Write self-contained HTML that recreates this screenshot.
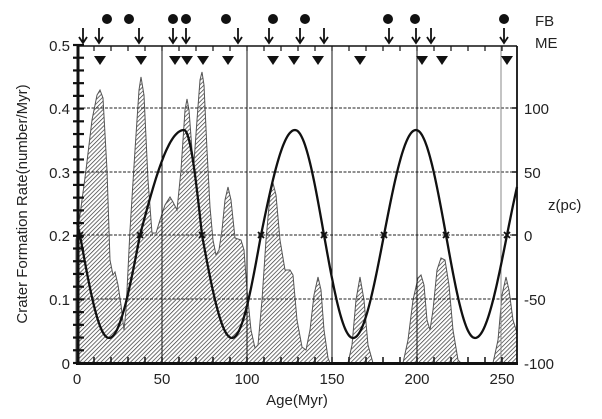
<!DOCTYPE html>
<html><head><meta charset="utf-8"><style>
html,body{margin:0;padding:0;background:#fff}
svg{display:block}
text{font-family:"Liberation Sans",sans-serif;fill:#222}
</style></head><body>
<svg id="s" width="602" height="419" viewBox="0 0 602 419" xmlns="http://www.w3.org/2000/svg">
<defs>
<pattern id="h" patternUnits="userSpaceOnUse" width="3" height="3" patternTransform="rotate(45)">
<rect width="3" height="3" fill="#fff"/>
<line x1="0" y1="0" x2="0" y2="3" stroke="#333" stroke-width="1.4"/>
</pattern>
</defs>
<g id="area"></g>
<g stroke="#222" stroke-width="0.9" stroke-dasharray="3,1.5">
<line x1="78" y1="108" x2="517" y2="108"/>
<line x1="78" y1="172" x2="517" y2="172"/>
<line x1="78" y1="235" x2="517" y2="235"/>
<line x1="78" y1="299" x2="517" y2="299"/>
</g>
<g stroke="#111" stroke-width="1">
<line x1="162" y1="46" x2="162" y2="363"/>
<line x1="247" y1="46" x2="247" y2="363"/>
<line x1="332" y1="46" x2="332" y2="363"/>
<line x1="417" y1="46" x2="417" y2="363"/>
<line x1="501" y1="46" x2="501" y2="363" stroke="#888"/>
</g>
<g id="curve"></g>
<g id="ticks"></g>
<line x1="78" y1="46" x2="517" y2="46" stroke="#111" stroke-width="1.5"/>
<line x1="517" y1="46" x2="517" y2="364" stroke="#111" stroke-width="1.8"/>
<line x1="78" y1="44" x2="78" y2="365" stroke="#111" stroke-width="3"/>
<line x1="76" y1="363.5" x2="518" y2="363.5" stroke="#111" stroke-width="3"/>
<g font-size="15" text-anchor="end">
<text x="70" y="51">0.5</text><text x="70" y="114">0.4</text><text x="70" y="178">0.3</text>
<text x="70" y="241">0.2</text><text x="70" y="305">0.1</text><text x="70" y="369">0</text>
</g>
<g font-size="15">
<text x="524" y="114">100</text><text x="524" y="178">50</text><text x="524" y="241">0</text>
<text x="524" y="305">-50</text><text x="524" y="369">-100</text>
<text x="548" y="210">z(pc)</text>
<text x="535" y="26">FB</text><text x="535" y="48">ME</text>
</g>
<g font-size="15" text-anchor="middle">
<text x="77" y="384">0</text><text x="162" y="384">50</text><text x="247" y="384">100</text>
<text x="332" y="384">150</text><text x="417" y="384">200</text><text x="502" y="384">250</text>
<text x="297" y="405">Age(Myr)</text>
<text transform="translate(27,204) rotate(-90)">Crater Formation Rate(number/Myr)</text>
</g>
<g id="marks"></g>
</svg>
<script>
var NS="http://www.w3.org/2000/svg";
function el(p,t,a){var e=document.createElementNS(NS,t);for(var k in a)e.setAttribute(k,a[k]);document.getElementById(p).appendChild(e);return e;}
var A=[[76,240],[80,215],[86,170],[92,120],[97,95],[100,90],[103,98],[107,170],[110,260],[113,275],[115,272],[118,285],[121,305],[124,330],[126,310],[130,230],[135,150],[139,90],[141,77],[144,95],[148,180],[152,233],[156,233],[160,220],[165,205],[170,197],[173,202],[177,210],[181,170],[185,110],[187,99],[189,110],[192,150],[194,162],[197,120],[200,80],[202,72],[204,85],[207,150],[210,207],[213,240],[216,255],[219,250],[222,230],[225,200],[228,187],[231,200],[235,238],[241,240],[244,250],[247,290],[251,330],[255,348],[258,345],[262,300],[266,240],[270,195],[273,183],[276,195],[280,240],[285,270],[290,270],[293,275],[297,320],[302,347],[306,350],[310,330],[314,295],[318,277],[321,290],[324,330],[328,358],[330,363],[348,363],[352,345],[356,300],[360,277],[364,300],[368,345],[373,363],[403,363],[408,340],[413,300],[418,278],[421,275],[424,285],[427,320],[430,330],[433,310],[437,270],[441,258],[445,260],[449,285],[453,330],[458,360],[461,363],[493,363],[498,340],[502,295],[506,277],[509,290],[513,320],[517,333],[517,363],[76,363]];
var d="M"+A.map(function(p){return p.join(",")}).join("L")+"Z";
el("area","path",{d:d,fill:"url(#h)",stroke:"#555","stroke-width":"1"});
var K=[[40,1],[80,0],[109,-1],[140,0],[184,1],[202,0],[232,-1],[261,0],[295,1],[324,0],[353,-1],[384,0],[416,1],[446,0],[475,-1],[507,0],[540,1]];
var pts=[];
for(var x=77;x<=517;x+=1){
 for(var i=0;i<K.length-1;i++){if(x>=K[i][0]&&x<=K[i+1][0])break;}
 var a=K[i],b=K[i+1],u=(x-a[0])/(b[0]-a[0]),v;
 if(a[1]==0) v=b[1]*Math.sin(u*Math.PI/2); else v=a[1]*Math.cos(u*Math.PI/2);
 var amp=v>0?105:103;
 pts.push(x+","+(235-v*amp).toFixed(1));
}
el("curve","path",{d:"M"+pts.join("L"),fill:"none",stroke:"#111","stroke-width":"2.3"});
[80,140,202,261,324,384,446,507].forEach(function(x){
 el("curve","path",{d:"M"+(x-3)+",232L"+(x+3)+",238M"+(x+3)+",232L"+(x-3)+",238",stroke:"#111","stroke-width":"1.8"});
});
for(var t=10;t<260;t+=10){var x=77+1.7*t;
 el("ticks","line",{x1:x,y1:46,x2:x,y2:51,stroke:"#111","stroke-width":"1.2"});
 el("ticks","line",{x1:x,y1:363,x2:x,y2:357,stroke:"#111","stroke-width":"1.5"});}
for(var k=0;k<=25;k++){var y=45+k*318/25;
 el("ticks","line",{x1:73,y1:y,x2:84,y2:y,stroke:"#111","stroke-width":"2.2"});}
[108,172,235,299].forEach(function(y){el("ticks","line",{x1:517,y1:y,x2:512,y2:y,stroke:"#111","stroke-width":"1.5"});});
[107,129,173,186,226,273,305,388,415,504].forEach(function(x){el("marks","circle",{cx:x,cy:19,r:5,fill:"#111"});});
[83,99,139,173,186,238,269,300,324,389,416,431,504].forEach(function(x){
 el("marks","path",{d:"M"+x+",28L"+x+",43M"+(x-4)+",37L"+x+",43L"+(x+4)+",37",fill:"none",stroke:"#111","stroke-width":"1.8"});
});
[100,141,175,187,203,228,273,294,318,360,422,442,507].forEach(function(x){
 el("marks","path",{d:"M"+(x-6)+",56L"+(x+6)+",56L"+x+",65Z",fill:"#111"});
});
</script>
</body></html>
